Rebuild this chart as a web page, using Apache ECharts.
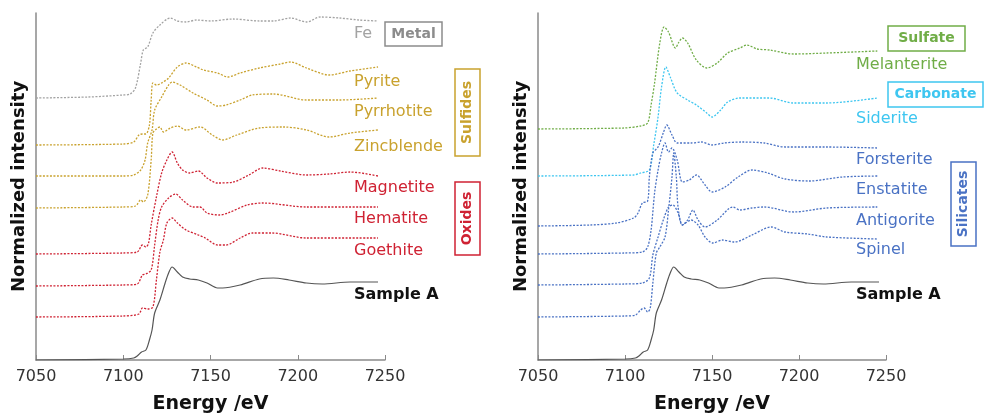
<!DOCTYPE html>
<html>
<head>
<meta charset="utf-8">
<script src="https://cdn.jsdelivr.net/npm/echarts@6/dist/echarts.min.js"></script>
<style>
  html, body { margin: 0; padding: 0; background: #fff; }
  #xanes { width: 984px; height: 416px; }
</style>
</head>
<body>
<div id="xanes"></div>
<script>
// Fe K-edge XANES, stacked spectra [energy eV, intensity + offset]
var fe = [[7050,26.2],[7080,26.3],[7100,26.5],[7104,26.6],[7107,27.2],[7110,29.7],[7111.5,31.0],[7114,31.3],[7117,32.7],[7121,33.5],[7127,34.2],[7131,33.9],[7136,33.8],[7142,34.0],[7150,33.9],[7163,34.1],[7178,33.9],[7186,33.9],[7196,34.2],[7205,33.8],[7213,34.3],[7224,34.2],[7235,34.0],[7246,33.9]];
var pyrite = [[7050,21.5],[7100,21.6],[7106,21.8],[7109,22.5],[7111,22.6],[7113,22.6],[7115,23.5],[7116,26.0],[7117,27.7],[7119,27.5],[7122,27.7],[7126,28.2],[7131,29.3],[7136,29.7],[7142,29.3],[7146,29.0],[7154,28.7],[7160,28.3],[7167,28.7],[7178,29.2],[7190,29.6],[7196,29.8],[7205,29.2],[7218,28.5],[7230,28.9],[7246,29.3]];
var pyrrhotite = [[7050,18.4],[7100,18.4],[7106,18.5],[7110,19.0],[7112.5,20.0],[7114,21.7],[7116.5,23.0],[7118,25.0],[7122,26.3],[7126,27.5],[7128,27.8],[7132.5,27.5],[7140,26.7],[7148,26.0],[7154,25.4],[7159,25.5],[7167,26.0],[7174,26.5],[7186,26.6],[7205,26.0],[7224,26.0],[7246,26.2]];
var zincblende = [[7050,15.2],[7100,15.3],[7107,15.4],[7110,16.0],[7111.5,15.8],[7114,16.5],[7116,20.0],[7117,22.7],[7119,23.1],[7121,23.3],[7123,22.8],[7127,23.2],[7131,23.4],[7136,23.0],[7144,23.3],[7151,22.5],[7157,22.0],[7165,22.5],[7178,23.2],[7192,23.3],[7205,23.0],[7218,22.3],[7230,22.7],[7246,23.0]];
var magnetite = [[7050,10.6],[7100,10.7],[7108,10.8],[7111,11.5],[7113,11.3],[7114.5,11.7],[7116,13.5],[7119,16.3],[7122,18.7],[7125,20.0],[7128,20.8],[7131,19.7],[7134,19.0],[7138,18.7],[7143,18.9],[7148,18.2],[7154,17.7],[7163,17.8],[7172,18.5],[7180,19.2],[7190,18.9],[7205,18.5],[7218,18.6],[7230,18.8],[7246,18.4]];
var hematite = [[7050,7.4],[7100,7.5],[7108,7.6],[7111,8.5],[7113,8.6],[7116,9.0],[7118,11.5],[7120,14.0],[7122,15.3],[7126,16.2],[7130,16.6],[7134,16.0],[7140,15.3],[7144,15.3],[7148,14.7],[7155,14.5],[7160,14.7],[7171,15.5],[7180,15.7],[7205,15.3],[7246,15.3]];
var goethite = [[7050,4.3],[7100,4.4],[7109,4.6],[7111,5.2],[7114,5.1],[7117,5.3],[7119,8.0],[7121,10.8],[7123,12.0],[7125,13.7],[7128,14.2],[7131,13.7],[7136,13.0],[7143,12.5],[7147,12.2],[7154,11.5],[7159,11.5],[7167,12.2],[7174,12.7],[7185,12.7],[7205,12.2],[7246,12.2]];
var sampleA = [[7050,0.0],[7100,0.1],[7106,0.2],[7108,0.4],[7110.5,0.8],[7113,1.0],[7115,2.0],[7116.5,3.0],[7118,4.7],[7121,6.0],[7124,7.7],[7126,8.7],[7128,9.3],[7131,8.8],[7134,8.3],[7138,8.1],[7143,8.0],[7148,7.7],[7154,7.2],[7157,7.2],[7167,7.5],[7178,8.1],[7186,8.2],[7195,8.0],[7205,7.7],[7214,7.6],[7230,7.8],[7246,7.8]];

var melanterite = [[7050,23.1],[7099,23.2],[7109,23.4],[7113,23.7],[7115,25.5],[7117,27.7],[7120,31.7],[7122.5,33.3],[7125,32.8],[7129,31.2],[7131,31.8],[7133,32.2],[7136,31.7],[7141,30.0],[7147,29.2],[7153,29.7],[7159,30.7],[7166,31.2],[7170,31.5],[7176,31.1],[7183,31.0],[7197,30.6],[7216,30.7],[7245,30.9]];
var siderite = [[7050,18.4],[7105,18.5],[7109,18.7],[7114,19.0],[7116.5,21.5],[7119,24.3],[7121,27.3],[7123.5,29.3],[7126,28.3],[7130,26.7],[7136,26.0],[7141,25.5],[7147,24.7],[7150,24.3],[7155,25.0],[7159,25.8],[7166,26.2],[7183,26.2],[7197,25.7],[7216,25.7],[7245,26.2]];
var forsterite = [[7050,13.4],[7080,13.5],[7095,13.7],[7105,14.2],[7107.5,14.7],[7110,15.7],[7113,15.9],[7114,18.3],[7116,20.7],[7119,21.3],[7122,22.7],[7124,23.5],[7127,22.5],[7130,21.7],[7138,21.7],[7144,21.8],[7150,21.5],[7157,21.7],[7167,21.8],[7180,21.7],[7192,21.3],[7216,21.3],[7245,21.2]];
var enstatite = [[7050,10.6],[7100,10.7],[7110,10.8],[7113,11.3],[7115,13.0],[7117,16.7],[7119,19.0],[7121,20.7],[7123,21.7],[7125,20.8],[7127,21.2],[7130,20.0],[7133,17.8],[7137,18.0],[7141,18.5],[7146,17.5],[7150,16.8],[7157.5,17.3],[7165,18.3],[7173,19.0],[7182,18.7],[7192,18.1],[7206,17.9],[7225,18.3],[7245,18.4]];
var antigorite = [[7050,7.5],[7100,7.6],[7110,7.7],[7114,8.2],[7116,10.5],[7119,12.3],[7122,14.0],[7125,15.3],[7127.5,15.5],[7130.5,14.7],[7133,13.5],[7136,14.0],[7139,15.0],[7142,14.0],[7146,13.3],[7153,14.0],[7162,15.3],[7166,15.0],[7173,15.2],[7180,15.3],[7197,14.8],[7216,15.2],[7245,15.3]];
var spinel = [[7050,4.3],[7100,4.4],[7106,4.5],[7109,5.0],[7111,5.2],[7113,4.8],[7114.5,5.2],[7116,7.7],[7118,10.7],[7120,11.3],[7123,12.3],[7125,15.0],[7127,18.3],[7128,20.7],[7129.5,18.3],[7130.5,15.3],[7133,13.5],[7138,14.0],[7142,13.5],[7146,12.3],[7150.5,11.7],[7156,12.0],[7163,11.8],[7173,12.5],[7184,13.3],[7192,12.8],[7205,12.6],[7216,12.3],[7245,12.1]];

var leftNames = ['Fe', 'Pyrite', 'Pyrrhotite', 'Zincblende', 'Magnetite', 'Hematite', 'Goethite', 'Sample A'];
var rightNames = ['Melanterite', 'Siderite', 'Forsterite', 'Enstatite', 'Antigorite', 'Spinel', 'Sample A'];
var groupNames = ['Metal', 'Sulfides', 'Oxides', 'Sulfate', 'Carbonate', 'Silicates'];

var FONT = '"DejaVu Sans", Verdana, sans-serif';
var GRAY = '#a3a3a3', GOLD = '#c9a22e', RED = '#cf2233', GREEN = '#70ad47', CYAN = '#3ec6f0', BLUE = '#4a72c4', DARK = '#555555';

var chart = echarts.init(document.getElementById('xanes'));

function spec(name, data, color, axis, solid) {
    return {
        name: name,
        type: 'line',
        xAxisIndex: axis,
        yAxisIndex: axis,
        data: data,
        showSymbol: false,
        smooth: 0.3,
        silent: true,
        lineStyle: { color: color, width: solid ? 1.2 : 1.3, type: solid ? 'solid' : [2, 1.5] },
        z: solid ? 3 : 2
    };
}

function xAx(idx) {
    return {
        type: 'value', gridIndex: idx, min: 7050, max: 7250, interval: 50,
        name: 'Energy /eV', nameLocation: 'middle', nameGap: 35,
        nameTextStyle: { fontFamily: FONT, fontSize: 19, fontWeight: 'bold', color: '#111' },
        axisLine: { lineStyle: { color: '#8a8a8a', width: 1.5 } },
        axisTick: { inside: true, length: 5, lineStyle: { color: '#8a8a8a' } },
        axisLabel: { fontFamily: FONT, fontSize: 16, color: '#333', margin: 9,
            formatter: function (v) { return String(v); } },
        splitLine: { show: false }
    };
}
function yAx(idx) {
    return {
        type: 'value', gridIndex: idx, min: 0, max: 34.7,
        name: 'Normalized intensity', nameLocation: 'middle', nameGap: 8, nameRotate: 90,
        nameTextStyle: { fontFamily: FONT, fontSize: 18, fontWeight: 'bold', color: '#111' },
        axisLine: { show: true, lineStyle: { color: '#8a8a8a', width: 1.5 } },
        axisTick: { show: false }, axisLabel: { show: false }, splitLine: { show: false }
    };
}

// 注释文字
function label(txt, x, y, color, bold) {
    return { type: 'text', x: x, y: y, silent: true,
        style: { text: txt, fill: color, fontFamily: FONT, fontSize: 16, fontWeight: bold ? 'bold' : 'normal', align: 'left', verticalAlign: 'middle' } };
}
function box(txt, x, y, w, h, color, vertical) {
    return [
        { type: 'rect', shape: { x: x, y: y, width: w, height: h }, silent: true,
          style: { fill: '#fff', stroke: color, lineWidth: 1.5 } },
        { type: 'text', x: x + w / 2, y: y + h / 2, rotation: vertical ? Math.PI / 2 : 0, silent: true,
          style: { text: txt, fill: color, fontFamily: FONT, fontSize: 14, fontWeight: 'bold', align: 'center', verticalAlign: 'middle' } }
    ];
}

var leftColors = [GRAY, GOLD, GOLD, GOLD, RED, RED, RED, '#111'];
var leftY = [34, 82, 112, 147, 188, 219, 251, 295];
var rightColors = [GREEN, CYAN, BLUE, BLUE, BLUE, BLUE, '#111'];
var rightY = [65, 119, 160, 190, 221, 250, 295];

var graphics = [];
leftNames.forEach(function (n, i) { graphics.push(label(n, 354, leftY[i], leftColors[i], n === 'Sample A')); });
rightNames.forEach(function (n, i) { graphics.push(label(n, 856, rightY[i], rightColors[i], n === 'Sample A')); });
graphics = graphics
    .concat(box(groupNames[0], 385, 22, 57, 24, '#8c8c8c', false))
    .concat(box(groupNames[1], 455, 69, 25, 87, GOLD, true))
    .concat(box(groupNames[2], 455, 182, 25, 73, RED, true))
    .concat(box(groupNames[3], 888, 26, 77, 25, GREEN, false))
    .concat(box(groupNames[4], 888, 82, 95, 25, CYAN, false))
    .concat(box(groupNames[5], 951, 162, 25, 84, BLUE, true));

chart.setOption({
    animation: false,
    backgroundColor: '#fff',
    grid: [
        { left: 36, top: 13, width: 349, height: 347, outerBoundsMode: 'none' },
        { left: 538, top: 13, width: 348, height: 347, outerBoundsMode: 'none' }
    ],
    xAxis: [xAx(0), xAx(1)],
    yAxis: [yAx(0), yAx(1)],
    series: [
        spec('Fe', fe, GRAY, 0),
        spec('Pyrite', pyrite, GOLD, 0),
        spec('Pyrrhotite', pyrrhotite, GOLD, 0),
        spec('Zincblende', zincblende, GOLD, 0),
        spec('Magnetite', magnetite, RED, 0),
        spec('Hematite', hematite, RED, 0),
        spec('Goethite', goethite, RED, 0),
        spec('Sample A', sampleA, DARK, 0, true),
        spec('Melanterite', melanterite, GREEN, 1),
        spec('Siderite', siderite, CYAN, 1),
        spec('Forsterite', forsterite, BLUE, 1),
        spec('Enstatite', enstatite, BLUE, 1),
        spec('Antigorite', antigorite, BLUE, 1),
        spec('Spinel', spinel, BLUE, 1),
        spec('Sample A ', sampleA, DARK, 1, true)
    ],
    graphic: graphics
});
</script>
</body>
</html>
